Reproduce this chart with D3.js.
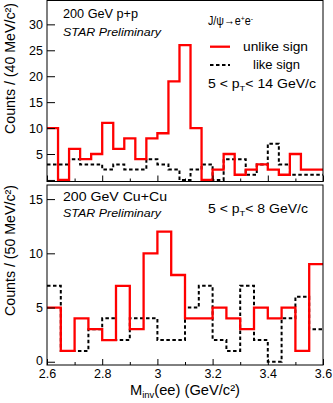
<!DOCTYPE html>
<html>
<head>
<meta charset="utf-8">
<script src="https://cdn.jsdelivr.net/npm/d3@7"></script>
<style>
  body { margin: 0; background: #fff; }
  text { font-family: "Liberation Sans", Arial, Helvetica, sans-serif; fill: #000; }
</style>
</head>
<body>
<script>
// mass range and bin widths (GeV/c^2)
const massMin = 2.6, massMax = 3.6;
const ppBinWidth = 0.04;
const cuBinWidth = 0.05;

// p+p, 5 < pT < 14 GeV/c, 40 MeV bins
const ppUnlike = [10, 0, 6, 4, 5, 11, 6, 8, 4, 8, 9, 19, 26, 10, 0, 2, 5, 1, 2, 3, 2, 1, 5, 2, 2];
const ppLike   = [3, 3, 4, 3, 3, 2, 3, 2, 2, 4, 3, 2, 0, 2, 3, 0, 4, 4, 1, 3, 7, 3, 1, 1, 1];

// Cu+Cu, 5 < pT < 8 GeV/c, 50 MeV bins
const cuUnlike = [5, 1, 4, 3, 2, 7, 3, 10, 12, 8, 4, 4, 5, 4, 3, 5, 4, 5, 1, 9];
const cuLike   = [7, 1, 1, 3, 4, 2, 4, 4, 2, 2, 5, 7, 2, 1, 7, 2, 0, 4, 6, 3];

// ticks
const xTicks = [2.6, 2.8, 3.0, 3.2, 3.4, 3.6];
const xMinorTicks = [2.7, 2.9, 3.1, 3.3, 3.5];
const ppYTicks = [0, 5, 10, 15, 20, 25, 30];
const cuYTicks = [0, 5, 10, 15];

var W = 333, H = 403;
var frameL = 47, frameR = 323;

var svg = d3.select("body").append("svg")
  .attr("width", W)
  .attr("height", H)
  .style("background", "#fff");

var x = d3.scaleLinear().domain([massMin, massMax]).range([frameL, frameR]);

function drawPanel(p) {
  var y = d3.scaleLinear().domain(p.yDomain).range([p.bottom, p.top]);
  var g = svg.append("g");

  // clip for the histograms
  g.append("clipPath").attr("id", p.id)
    .append("rect")
    .attr("x", frameL).attr("y", p.top)
    .attr("width", frameR - frameL).attr("height", p.bottom - p.top);

  var line = d3.line()
    .x(d => x(d[0]))
    .y(d => y(d[1]))
    .curve(d3.curveStepAfter);

  function steps(vals, bw) {
    var pts = vals.map((v, i) => [massMin + i * bw, v]);
    pts.push([massMax, vals[vals.length - 1]]);
    return pts;
  }

  var hg = g.append("g").attr("clip-path", "url(#" + p.id + ")");
  hg.append("path")
    .attr("d", line(steps(p.like, p.bw)))
    .attr("fill", "none")
    .attr("stroke", "#000")
    .attr("stroke-width", 2)
    .attr("stroke-dasharray", "3.5,2.5");
  hg.append("path")
    .attr("d", line(steps(p.unlike, p.bw)))
    .attr("fill", "none")
    .attr("stroke", "#ff0000")
    .attr("stroke-width", 2.3);

  // y axis, ticks inside
  var yAxis = d3.axisLeft(y)
    .tickValues(p.yTicks)
    .tickSizeInner(-8)
    .tickSizeOuter(0)
    .tickPadding(4)
    .tickFormat(d => (d === 0 && !p.zeroLabel) ? "" : d);
  var ga = g.append("g").attr("transform", "translate(" + frameL + ",0)").call(yAxis);
  ga.select(".domain").remove();
  ga.selectAll("text").style("font-size", "12.5px").attr("font-family", null)
    .attr("dy", d => d === 0 ? "0.2em" : "0.32em");

  // x axis
  var xAxis = d3.axisBottom(x)
    .tickValues(xTicks)
    .tickSizeInner(-6)
    .tickSizeOuter(0)
    .tickPadding(4)
    .tickFormat(d => p.xLabels ? (+d.toFixed(1)) + "" : "");
  var gx = g.append("g").attr("transform", "translate(0," + p.bottom + ")").call(xAxis);
  gx.select(".domain").remove();
  gx.selectAll("text").style("font-size", "12.5px").attr("font-family", null);

  var gm = g.append("g").attr("transform", "translate(0," + p.bottom + ")")
    .call(d3.axisBottom(x).tickValues(xMinorTicks).tickSizeInner(-3).tickSizeOuter(0).tickFormat(""));
  gm.select(".domain").remove();

  // frame
  g.append("rect")
    .attr("x", frameL).attr("y", p.top)
    .attr("width", frameR - frameL).attr("height", p.bottom - p.top)
    .attr("fill", "none").attr("stroke", "#000").attr("stroke-width", 1);

  // y title
  g.append("text")
    .attr("transform", "translate(15," + p.titleStart + ") rotate(-90)")
    .attr("textLength", 131)
    .attr("lengthAdjust", "spacingAndGlyphs")
    .style("font-size", "14px")
    .text(p.yTitle);

  return y;
}

drawPanel({
  id: "clipPP", top: 0.5, bottom: 181.5, yDomain: [-0.3, 34.6], yTicks: ppYTicks,
  zeroLabel: false, xLabels: false, bw: ppBinWidth, unlike: ppUnlike, like: ppLike,
  yTitle: "Counts / (40 MeV/c²)", titleStart: 134
});
drawPanel({
  id: "clipCu", top: 185, bottom: 365, yDomain: [-0.3, 16.3], yTicks: cuYTicks,
  zeroLabel: true, xLabels: true, bw: cuBinWidth, unlike: cuUnlike, like: cuLike,
  yTitle: "Counts / (50 MeV/c²)", titleStart: 316
});

// annotations
function label(tx, ty, size, len, str, italic) {
  var t = svg.append("text")
    .attr("x", tx).attr("y", ty)
    .style("font-size", size + "px")
    .text(str);
  if (len) t.attr("textLength", len).attr("lengthAdjust", "spacingAndGlyphs");
  if (italic) t.style("font-style", "italic");
  return t;
}

label(63, 18.3, 12, 75, "200 GeV p+p");
label(63, 36, 10, 98, "STAR Preliminary", true);
label(63, 201, 12, 104, "200 GeV Cu+Cu");
label(63, 217, 10, 98, "STAR Preliminary", true);

// J/psi -> e+e-
var jp = svg.append("text").attr("x", 208).attr("y", 25).style("font-size", "12.5px")
  .attr("textLength", 45).attr("lengthAdjust", "spacingAndGlyphs");
jp.append("tspan").text("J/ψ→e");
jp.append("tspan").attr("dy", -4.5).style("font-size", "8px").text("+");
jp.append("tspan").attr("dy", 4.5).text("e");
jp.append("tspan").attr("dy", -4.5).style("font-size", "8px").text("-");

// legend
svg.append("line").attr("x1", 210).attr("x2", 230).attr("y1", 46.7).attr("y2", 46.7)
  .attr("stroke", "#ff0000").attr("stroke-width", 2.3);
svg.append("line").attr("x1", 210).attr("x2", 230).attr("y1", 65).attr("y2", 65)
  .attr("stroke", "#000").attr("stroke-width", 2).attr("stroke-dasharray", "3.5,2.5");
label(243, 50.5, 13, 65, "unlike sign");
label(253, 69, 13, 47, "like sign");

function ptLabel(tx, ty, len, hi) {
  var t = svg.append("text").attr("x", tx).attr("y", ty).style("font-size", "12px")
    .attr("textLength", len).attr("lengthAdjust", "spacingAndGlyphs");
  t.append("tspan").text("5 < p");
  t.append("tspan").attr("dy", 3).style("font-size", "8px").text("T");
  t.append("tspan").attr("dy", -3).text("< " + hi + " GeV/c");
}
ptLabel(208, 88.3, 108, 14);
ptLabel(208, 212.7, 100, 8);

// x title
var xt = svg.append("text").attr("x", 130).attr("y", 395).style("font-size", "14px")
  .attr("textLength", 110).attr("lengthAdjust", "spacingAndGlyphs");
xt.append("tspan").text("M");
xt.append("tspan").attr("dy", 3).style("font-size", "9px").text("inv");
xt.append("tspan").attr("dy", -3).text("(ee) (GeV/c²)");
</script>
</body>
</html>
